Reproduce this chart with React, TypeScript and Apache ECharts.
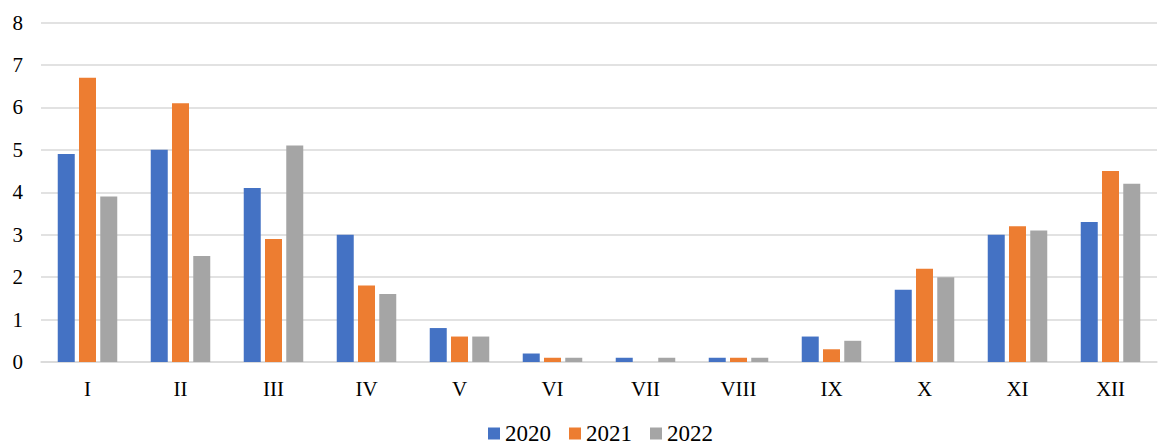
import React, { useEffect, useRef } from "react";
import * as echarts from "echarts";

const categories = ["I", "II", "III", "IV", "V", "VI", "VII", "VIII", "IX", "X", "XI", "XII"];
const s2020 = [4.9, 5.0, 4.1, 3.0, 0.8, 0.2, 0.1, 0.1, 0.6, 1.7, 3.0, 3.3];
const s2021 = [6.7, 6.1, 2.9, 1.8, 0.6, 0.1, 0, 0.1, 0.3, 2.2, 3.2, 4.5];
const s2022 = [3.9, 2.5, 5.1, 1.6, 0.6, 0.1, 0.1, 0.1, 0.5, 2.0, 3.1, 4.2];
const seriesNames = ["2020", "2021", "2022"];
const colors = ["#4472C4", "#ED7D31", "#A5A5A5"];

const FONT = "Liberation Serif";

export default function App() {
  const ref = useRef<HTMLDivElement>(null);
  useEffect(() => {
    if (!ref.current) return;
    const chart = echarts.init(ref.current, undefined, { renderer: "svg" });
    const data = [s2020, s2021, s2022];
    chart.setOption({
      animation: false,
      textStyle: { fontFamily: FONT },
      grid: { left: 41, right: 2, top: 22.5, bottom: 83, containLabel: false },
      legend: {
        data: seriesNames,
        bottom: 0,
        left: 488,
        padding: 0,
        itemWidth: 12,
        itemHeight: 12,
        itemGap: 18,
        icon: "rect",
        textStyle: { fontFamily: FONT, fontSize: 23, lineHeight: 18, color: "#000" },
      },
      xAxis: {
        type: "category",
        data: categories,
        axisLine: { lineStyle: { color: "#D9D9D9", width: 1.5 } },
        axisTick: { show: false },
        axisLabel: { fontFamily: FONT, fontSize: 21, color: "#000", margin: 16 },
      },
      yAxis: {
        type: "value",
        min: 0,
        max: 8,
        interval: 1,
        splitLine: { lineStyle: { color: "#D9D9D9", width: 1.5 } },
        axisLine: { show: false },
        axisTick: { show: false },
        axisLabel: { fontFamily: FONT, fontSize: 21, color: "#000", margin: 18 },
      },
      series: seriesNames.map((name, i) => ({
        name,
        type: "bar",
        data: data[i],
        barGap: "25%",
        barCategoryGap: "36%",
        itemStyle: { color: colors[i] },
      })),
    });
    return () => chart.dispose();
  }, []);
  return <div ref={ref} style={{ width: 1159, height: 445, position: "absolute", left: 0, top: 0 }} />;
}
